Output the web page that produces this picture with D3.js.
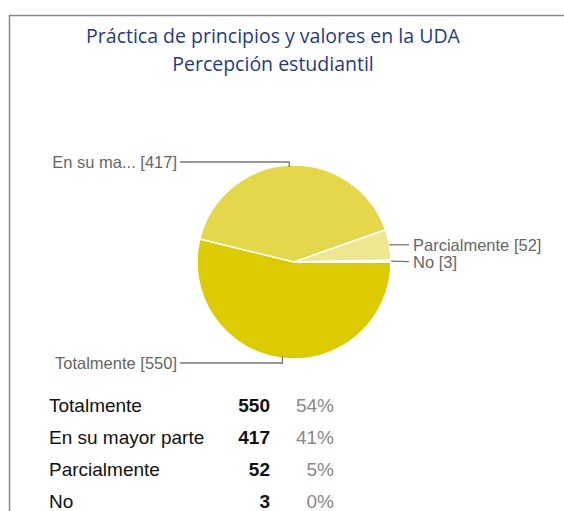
<!DOCTYPE html>
<meta charset="utf-8">
<style>
body { margin: 0; background: #fff; }
.title { font-family: "Open Sans", sans-serif; fill: #1f3b87; }
.plabel { font-family: "Liberation Sans", Arial, sans-serif; font-size: 16.5px; fill: #666; }
.leader { fill: none; stroke: #777; stroke-width: 1.3px; }
.row { font-family: "Liberation Sans", Arial, sans-serif; font-size: 19px; }
</style>
<body>
<script src="https://cdn.jsdelivr.net/npm/d3@7"></script>
<script>
var categories = ["Totalmente", "En su mayor parte", "Parcialmente", "No"];
var shortNames = ["Totalmente", "En su ma...", "Parcialmente", "No"];
var counts = [550, 417, 52, 3];
var percents = ["54%", "41%", "5%", "0%"];
var colors = ["#dccb00", "#e5d74a", "#efe78f", "#f6f0c0"];
var titleLines = ["Práctica de principios y valores en la UDA", "Percepción estudiantil"];

var width = 564, height = 511;
var cx = 294, cy = 262, r = 97;

var svg = d3.select("body").append("svg")
    .attr("width", width)
    .attr("height", height);

// frame (top + left edges)
svg.append("path")
    .attr("d", "M9.5," + height + "V15.5H" + width)
    .attr("fill", "none")
    .attr("stroke", "#8a8a8a")
    .attr("stroke-width", 1.5);

svg.selectAll("text.title")
    .data(titleLines)
  .enter().append("text")
    .attr("class", "title")
    .attr("x", 273)
    .attr("y", function(d, i) { return 43 + i * 28; })
    .attr("text-anchor", "middle")
    .style("font-size", "19.5px")
    .text(function(d) { return d; });

var data = categories.map(function(c, i) { return {name: c, short: shortNames[i], value: counts[i], i: i}; });

var pie = d3.pie()
    .sort(null)
    .value(function(d) { return d.value; })
    .startAngle(Math.PI / 2)
    .endAngle(Math.PI / 2 + 2 * Math.PI);

var arc = d3.arc().innerRadius(0).outerRadius(r);
var arcs = pie(data);

var g = svg.append("g").attr("transform", "translate(" + cx + "," + cy + ")");

g.selectAll("path")
    .data(arcs)
  .enter().append("path")
    .attr("d", arc)
    .attr("fill", function(d) { return colors[d.data.i]; })
    .attr("stroke", "#fff")
    .attr("stroke-width", 1.5);

// leader lines + labels
function edge(a, k) {
  return [Math.sin(a) * r * k, -Math.cos(a) * r * k];
}

arcs.forEach(function(d) {
  var mid = (d.startAngle + d.endAngle) / 2;
  var i = d.data.i;
  var label = d.data.short + " [" + d.data.value + "]";
  var p = edge(mid, 1.0), pts, tx, ty, anchor;
  if (i === 0) {
    // bottom, to left
    var ly = r + 4;
    pts = [[p[0], p[1] - 2], [p[0], ly], [-114, ly]];
    tx = -117; ty = ly + 6; anchor = "end";
  } else if (i === 1) {
    var ly = -r - 3;
    pts = [[p[0], p[1] + 2], [p[0], ly], [-114, ly]];
    tx = -117; ty = ly + 6; anchor = "end";
  } else if (i === 2) {
    pts = [[p[0], p[1]], [115, p[1]]];
    tx = 119; ty = p[1] + 6; anchor = "start";
  } else {
    pts = [[p[0], p[1]], [115, p[1] + 0.5]];
    tx = 119; ty = p[1] + 7; anchor = "start";
  }
  g.append("path")
      .attr("class", "leader")
      .attr("d", d3.line()(pts));
  g.append("text")
      .attr("class", "plabel")
      .attr("x", tx)
      .attr("y", ty)
      .attr("text-anchor", anchor)
      .text(label);
});

// table below
var rowY = d3.scalePoint().domain(categories).range([412, 508]);

var rows = svg.selectAll("g.row")
    .data(data)
  .enter().append("g")
    .attr("class", "row")
    .attr("transform", function(d) { return "translate(0," + rowY(d.name) + ")"; });

rows.append("text")
    .attr("x", 49)
    .attr("fill", "#111")
    .text(function(d) { return d.name; });

rows.append("text")
    .attr("x", 270)
    .attr("text-anchor", "end")
    .attr("font-weight", "bold")
    .attr("fill", "#111")
    .text(function(d) { return d.value; });

rows.append("text")
    .attr("x", 334)
    .attr("text-anchor", "end")
    .attr("fill", "#888")
    .text(function(d, i) { return percents[i]; });
</script>
</body>
